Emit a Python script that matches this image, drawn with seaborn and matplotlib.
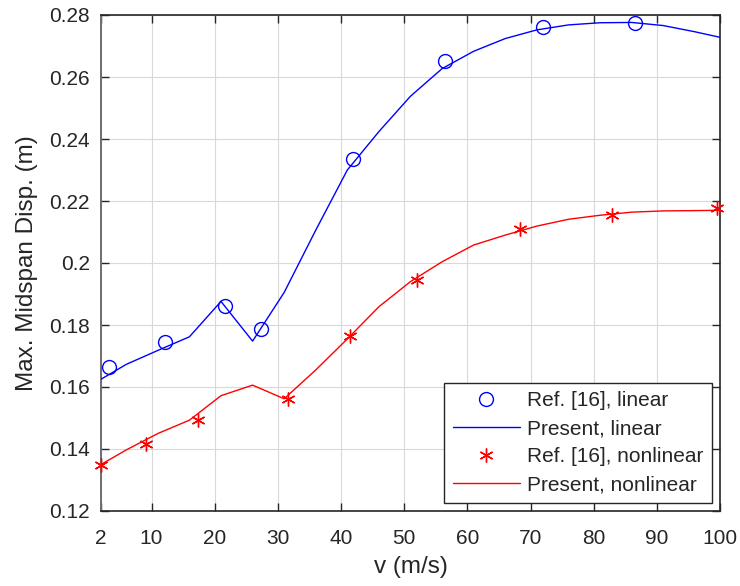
import matplotlib
matplotlib.use("Agg")
import matplotlib.pyplot as plt
import seaborn as sns
import pandas as pd
import numpy as np

# Reference data (markers)
ref_lin_v = [3.2, 12.1, 21.7, 27.3, 41.9, 56.4, 71.9, 86.5]
ref_lin_d = [0.1665, 0.1744, 0.1861, 0.1788, 0.2335, 0.2652, 0.2760, 0.2775]
ref_nl_v = [2.0, 9.1, 17.3, 31.6, 41.4, 52.0, 68.4, 82.9, 99.6]
ref_nl_d = [0.1348, 0.1417, 0.1493, 0.1560, 0.1763, 0.1946, 0.2111, 0.2156, 0.2177]

# Present results (lines)
pres_v = [2, 6, 11, 16, 21, 26, 31, 36, 41, 46, 51, 56, 61, 66, 71, 76, 81, 86, 91, 96, 100]
pres_lin_d = [0.1625, 0.1673, 0.1718, 0.1762, 0.1876, 0.1748, 0.1905, 0.2106, 0.2300, 0.2424,
              0.2538, 0.2627, 0.2683, 0.2724, 0.2752, 0.2768, 0.2775, 0.2776, 0.2766, 0.2746, 0.2728]
pres_nl_d = [0.1350, 0.1397, 0.1450, 0.1493, 0.1572, 0.1606, 0.1562, 0.1655, 0.1755, 0.1859,
             0.1940, 0.2004, 0.2058, 0.2090, 0.2119, 0.2141, 0.2154, 0.2164, 0.2168, 0.2169, 0.2170]

x_ticks = [2, 10, 20, 30, 40, 50, 60, 70, 80, 90, 100]
y_ticks = [0.12, 0.14, 0.16, 0.18, 0.20, 0.22, 0.24, 0.26, 0.28]
y_labels = ["0.12", "0.14", "0.16", "0.18", "0.2", "0.22", "0.24", "0.26", "0.28"]

sns.set_theme(style="whitegrid")
plt.rcParams['font.family'] = ['Liberation Sans', 'DejaVu Sans']

fig = plt.figure(figsize=(7.4, 5.86), dpi=100)
ax = fig.add_axes([101/740, 1 - 511/586, (720 - 101)/740, (511 - 15)/586])
ax.set_facecolor('white')

df_rl = pd.DataFrame({"v": ref_lin_v, "d": ref_lin_d})
df_pl = pd.DataFrame({"v": pres_v, "d": pres_lin_d})
df_rn = pd.DataFrame({"v": ref_nl_v, "d": ref_nl_d})
df_pn = pd.DataFrame({"v": pres_v, "d": pres_nl_d})

sns.lineplot(data=df_pl, x="v", y="d", ax=ax, color="#0000ff", lw=1.0, sort=False,
             label="Present, linear", zorder=3)
sns.lineplot(data=df_pn, x="v", y="d", ax=ax, color="#ff0000", lw=1.0, sort=False,
             label="Present, nonlinear", zorder=3)
ax.plot(df_rl["v"], df_rl["d"], ls="none", marker="o", ms=10, mfc="none", mec="#0000ff",
        mew=1.0, label="Ref. [16], linear", zorder=4, clip_on=False)
ax.plot(df_rn["v"], df_rn["d"], ls="none", marker=(6, 2, 0), ms=10, mfc="none", mec="#ff0000",
        mew=1.0, label="Ref. [16], nonlinear", zorder=4, clip_on=False)

ax.set_xlim(2, 100)
ax.set_ylim(0.12, 0.28)
ax.set_xticks(x_ticks)
ax.set_yticks(y_ticks)
ax.set_yticklabels(y_labels)

ax.grid(True, color="#d9d9d9", lw=0.8)
ax.tick_params(direction="in", length=6, width=1.0, colors="#262626", labelsize=15,
               top=True, right=True, bottom=True, left=True)
ax.tick_params(axis="x", pad=13)
ax.tick_params(axis="y", pad=8)
for s in ["top", "right", "bottom"]:
    ax.spines[s].set_color("#262626")
    ax.spines[s].set_linewidth(1.2)
ax.spines["left"].set_color("#6e6e6e")
ax.spines["left"].set_linewidth(1.4)

ax.set_xlabel("v (m/s)", fontsize=17.5, color="#262626", labelpad=6)
ax.set_ylabel("Max. Midspan Disp. (m)", fontsize=17.5, color="#262626", labelpad=8)

handles, labels = ax.get_legend_handles_labels()
order = ["Ref. [16], linear", "Present, linear", "Ref. [16], nonlinear", "Present, nonlinear"]
hmap = dict(zip(labels, handles))
leg = ax.legend([hmap[o] for o in order], order, loc="lower right", fontsize=15,
                frameon=True, fancybox=False, edgecolor="#262626", framealpha=1,
                borderpad=0.42, labelspacing=0.43, handlelength=3.2, handletextpad=0.35,
                borderaxespad=0.38)
leg.get_frame().set_linewidth(1.0)
for t in leg.get_texts():
    t.set_color("#262626")

fig.savefig("out.png", dpi=100)
